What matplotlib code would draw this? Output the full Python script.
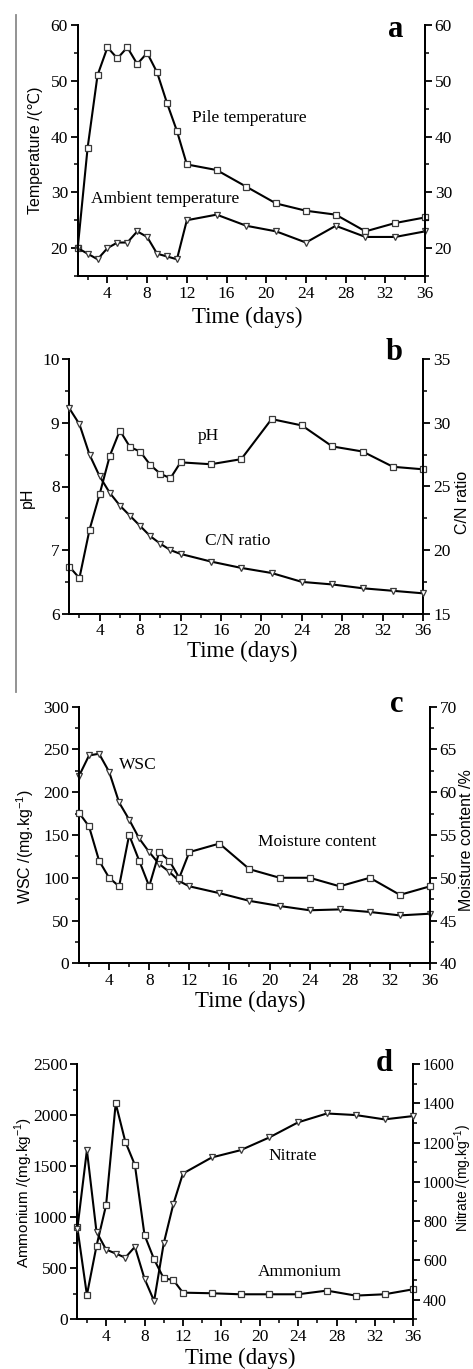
import matplotlib
matplotlib.use('Agg')
import matplotlib.pyplot as plt
from matplotlib.lines import Line2D
from matplotlib.ticker import MultipleLocator

# ---------------- data ----------------
days = [1, 2, 3, 4, 5, 6, 7, 8, 9, 10, 11, 12, 15, 18, 21, 24, 27, 30, 33, 36]

pile_temp = [20, 38, 51, 56, 54, 56, 53, 55, 51.5, 46, 41, 35, 34, 31, 28, 26.7, 26, 23, 24.5, 25.5]
ambient_temp = [20, 19, 18, 20, 21, 21, 23, 22, 19, 18.5, 18, 25, 26, 24, 23, 21, 24, 22, 22, 23]

ph = [6.74, 6.56, 7.32, 7.88, 8.48, 8.88, 8.62, 8.55, 8.34, 8.20, 8.13, 8.38, 8.35, 8.43, 9.06, 8.96, 8.63, 8.55, 8.31, 8.27]
cn_ratio = [31.15, 29.9, 27.5, 25.8, 24.5, 23.5, 22.7, 21.9, 21.1, 20.5, 20.0, 19.7, 19.1, 18.6, 18.2, 17.5, 17.3, 17.0, 16.8, 16.6]

wsc = [219, 243, 245, 224, 188, 168, 146, 130, 116, 107, 96, 90, 82, 73, 67, 62, 63, 60, 56, 58]
moisture = [57.6, 56, 52, 50, 49, 55, 52, 49, 53, 52, 50, 53, 54, 51, 50, 50, 49, 50, 48, 49]

ammonium = [900, 238, 718, 1119, 2115, 1740, 1511, 826, 587, 401, 385, 261, 255, 245, 245, 245, 281, 232, 245, 294]
nitrate = [760, 1161, 745, 655, 635, 614, 669, 507, 393, 686, 886, 1042, 1124, 1161, 1226, 1303, 1348, 1340, 1318, 1335]

# ---------------- style ----------------
SERIF = ['Liberation Serif', 'DejaVu Serif']
SANS = ['Liberation Sans', 'DejaVu Sans']
plt.rcParams['font.family'] = SERIF
plt.rcParams['mathtext.fontset'] = 'custom'
plt.rcParams['mathtext.rm'] = 'Liberation Sans'

W, H = 473, 1369
fig = plt.figure(figsize=(W / 100, H / 100), dpi=100)


def px_axes(l, r, t, b):
    return fig.add_axes([l / W, 1 - b / H, (r - l) / W, (b - t) / H])


LINE = dict(color='black', lw=1.5, markersize=4.5, markerfacecolor='white',
            markeredgecolor='#3a3a3a', markeredgewidth=0.9, clip_on=False, zorder=3)

TICK_FS = 12.5
LABEL_FS = 11.5
ANN_FS = 12.5
XLAB_FS = 16.5
LETTER_FS = 22


def style(ax, ax2, ylim_l, maj_l, min_l, ylim_r, maj_r, min_r, xlab_xy):
    ax.set_xlim(1, 36)
    ax.xaxis.set_major_locator(MultipleLocator(4))
    ax.xaxis.set_minor_locator(MultipleLocator(2))
    ax.set_ylim(*ylim_l)
    ax.yaxis.set_major_locator(MultipleLocator(maj_l))
    ax.yaxis.set_minor_locator(MultipleLocator(min_l))
    ax2.set_ylim(*ylim_r)
    ax2.yaxis.set_major_locator(MultipleLocator(maj_r))
    ax2.yaxis.set_minor_locator(MultipleLocator(min_r))
    for a in (ax, ax2):
        a.spines['top'].set_visible(False)
        for s in ('left', 'right', 'bottom'):
            a.spines[s].set_linewidth(1.4)
        a.tick_params(which='major', direction='out', length=5, width=1.3,
                      labelsize=TICK_FS, pad=2)
        a.tick_params(which='minor', direction='out', length=3, width=1.1)
    ax.set_facecolor('none')
    ax.set_xlabel('Time (days)', fontsize=XLAB_FS, va='center')
    ax.xaxis.set_label_coords(*xlab_xy)


def ylab(axis_obj, text, xy, fs=LABEL_FS):
    axis_obj.set_ylabel(text, family=SANS, fontsize=fs, va='center', ha='center')
    axis_obj.yaxis.set_label_coords(*xy)


# ---------------- panel a ----------------
axa = px_axes(77.7, 425, 25, 276)
axa2 = axa.twinx()
axa.plot(days, pile_temp, marker='s', **LINE)
axa.plot(days, ambient_temp, marker='v', **LINE)
style(axa, axa2, (15, 60), 10, 5, (15, 60), 10, 5, (0.487, -0.163))
ylab(axa, 'Temperature /(℃)', (-0.121, 0.5))
axa.text(18.3, 43.3, 'Pile temperature', fontsize=ANN_FS, ha='center', va='center')
axa.text(9.83, 28.8, 'Ambient temperature', fontsize=ANN_FS, ha='center', va='center')
axa.text(33.0, 59.2, 'a', fontsize=LETTER_FS, fontweight='bold', ha='center', va='center')

# ---------------- panel b ----------------
axb = px_axes(69.3, 423.3, 359.3, 613.7)
axb2 = axb.twinx()
axb.plot(days, ph, marker='s', **LINE)
axb2.plot(days, cn_ratio, marker='v', **LINE)
style(axb, axb2, (6, 10), 1, 0.5, (15, 35), 5, 2.5, (0.489, -0.149))
ylab(axb, 'pH', (-0.119, 0.455))
ylab(axb2, 'C/N ratio', (1.112, 0.439))
axb.text(14.8, 8.79, 'pH', fontsize=ANN_FS, ha='center', va='center')
axb.text(17.6, 7.14, 'C/N ratio', fontsize=ANN_FS, ha='center', va='center')
axb.text(33.1, 10.1, 'b', fontsize=LETTER_FS, fontweight='bold', ha='center', va='center')

# ---------------- panel c ----------------
axc = px_axes(79, 430, 706.7, 963.3)
axc2 = axc.twinx()
axc.plot(days, wsc, marker='v', **LINE)
axc2.plot(days, moisture, marker='s', **LINE)
style(axc, axc2, (0, 300), 50, 25, (40, 70), 5, 2.5, (0.487, -0.150))
ylab(axc, r'WSC /(mg.kg$^{\mathregular{-1}}$)', (-0.152, 0.453))
ylab(axc2, 'Moisture content /%', (1.103, 0.48))
axc.text(6.9, 231.8, 'WSC', fontsize=ANN_FS, ha='center', va='center')
axc.text(24.8, 141.4, 'Moisture content', fontsize=ANN_FS, ha='center', va='center')
axc.text(32.7, 302, 'c', fontsize=LETTER_FS, fontweight='bold', ha='center', va='center')

# ---------------- panel d ----------------
axd = px_axes(77.3, 413.3, 1064, 1319.3)
axd2 = axd.twinx()
axd.plot(days, ammonium, marker='s', **LINE)
axd2.plot(days, nitrate, marker='v', **LINE)
style(axd, axd2, (0, 2500), 500, 250, (300, 1600), 200, 100, (0.484, -0.153))
axd2.tick_params(which='major', labelsize=11.5)
ylab(axd, r'Ammonium /(mg.kg$^{\mathregular{-1}}$)', (-0.160, 0.4986), fs=11)
ylab(axd2, r'Nitrate /(mg.kg$^{\mathregular{-1}}$)', (1.148, 0.553), fs=10)
axd.text(23.4, 1602, 'Nitrate', fontsize=ANN_FS, ha='center', va='center')
axd.text(24.2, 467, 'Ammonium', fontsize=ANN_FS, ha='center', va='center')
axd.text(33.0, 2505, 'd', fontsize=LETTER_FS, fontweight='bold', ha='center', va='center')

# scan artifact: vertical gray margin line
fig.add_artist(Line2D([16 / W, 16 / W], [1 - 15 / H, 1 - 692 / H],
                      color='#8a8a8a', lw=1.3, transform=fig.transFigure))

fig.savefig('out.png', dpi=100)
